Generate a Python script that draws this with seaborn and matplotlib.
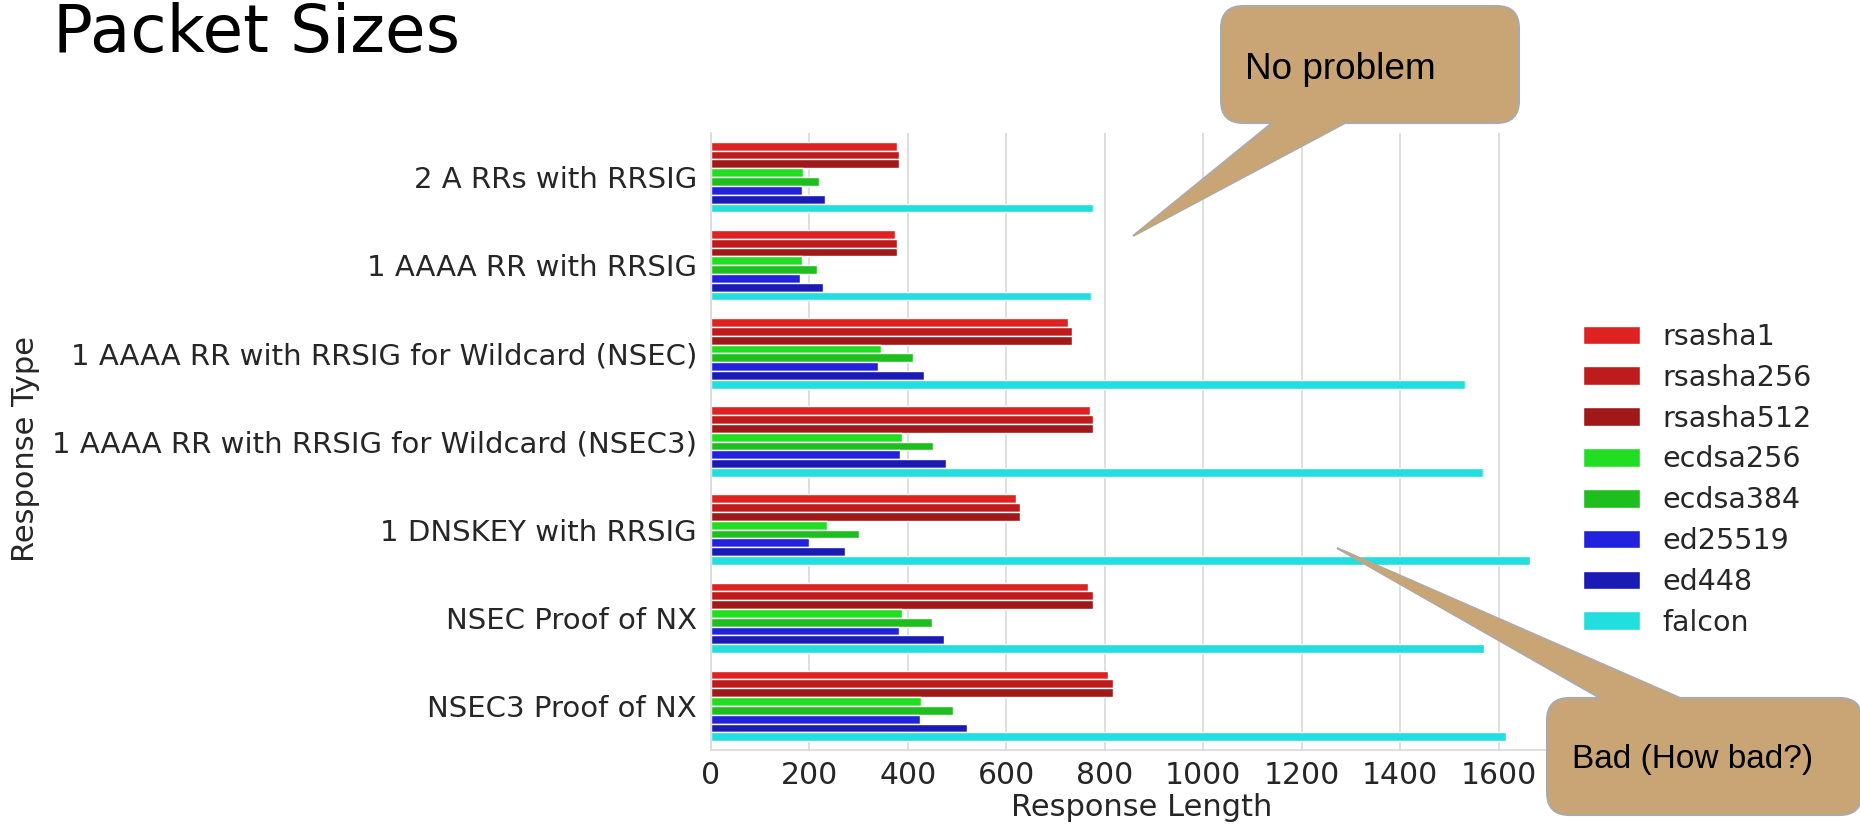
import numpy as np
import pandas as pd
import matplotlib
matplotlib.use("Agg")
import matplotlib.pyplot as plt
import seaborn as sns
from matplotlib.patches import FancyBboxPatch, Polygon

# --- data ---
response_types = [
    "2 A RRs with RRSIG",
    "1 AAAA RR with RRSIG",
    "1 AAAA RR with RRSIG for Wildcard (NSEC)",
    "1 AAAA RR with RRSIG for Wildcard (NSEC3)",
    "1 DNSKEY with RRSIG",
    "NSEC Proof of NX",
    "NSEC3 Proof of NX",
]
algorithms = ["rsasha1", "rsasha256", "rsasha512", "ecdsa256", "ecdsa384",
              "ed25519", "ed448", "falcon"]

rsasha1 = [378, 373, 726, 769, 620, 766, 807]
rsasha256 = [381, 378, 734, 775, 627, 775, 816]
rsasha512 = [381, 378, 734, 775, 627, 775, 816]
ecdsa256 = [187, 184, 346, 387, 235, 387, 427]
ecdsa384 = [219, 216, 410, 451, 300, 448, 492]
ed25519 = [184, 181, 340, 384, 200, 381, 424]
ed448 = [231, 227, 432, 478, 273, 473, 519]
falcon = [775, 772, 1531, 1568, 1663, 1571, 1614]

colors = ["#DE2222", "#BE1C1C", "#A01818", "#22DE22", "#1EBE1E",
          "#2222DE", "#1A1AB4", "#22DEDE"]

series = [rsasha1, rsasha256, rsasha512, ecdsa256, ecdsa384, ed25519, ed448, falcon]
rows = []
for alg, vals in zip(algorithms, series):
    for rt, v in zip(response_types, vals):
        rows.append({"Response Type": rt, "Response Length": v, "Algorithm": alg})
df = pd.DataFrame(rows)

W, H = 1860, 830


def fx(x):
    return x / W


def fy(y):
    return 1 - y / H


sns.set_theme(style="whitegrid")
plt.rcParams["font.family"] = ["DejaVu Sans"]

fig = plt.figure(figsize=(18.6, 8.3), dpi=100)
xmax = 1750
ax_w = xmax * 0.4923
ax = fig.add_axes([fx(711), fy(750), ax_w / W, (750 - 133) / H])

sns.barplot(data=df, y="Response Type", x="Response Length", hue="Algorithm",
            hue_order=algorithms, order=response_types, palette=colors,
            orient="h", saturation=1, edgecolor="white", linewidth=1.0, ax=ax)
ax.set_xlim(0, xmax)
handles, labels = ax.get_legend_handles_labels()
ax.get_legend().remove()

ax.set_xticks(range(0, 1601, 200))
ax.tick_params(axis="y", labelsize=21, pad=10, colors=".15", length=0)
ax.tick_params(axis="x", labelsize=21.5, pad=8, colors=".15", length=0)
ax.set_xlabel("Response Length", fontsize=22, color=".15", labelpad=2)
ax.set_ylabel("Response Type", fontsize=22, color=".15")
ax.yaxis.set_label_coords((40 - 711) / ax_w, 0.488)
ax.grid(axis="x", color=".85", linewidth=1.2)
ax.grid(axis="y", visible=False)
sns.despine(ax=ax, top=True, right=True)
for s in ["left", "bottom"]:
    ax.spines[s].set_color(".85")
    ax.spines[s].set_linewidth(1.2)

fig.legend(handles, labels, loc="upper left", bbox_to_anchor=(fx(1583), fy(323)),
           bbox_transform=fig.transFigure, frameon=False, borderpad=0,
           borderaxespad=0, handlelength=2.0, handleheight=0.63,
           handletextpad=0.8, labelspacing=0.45, fontsize=20.5)

# title (slide heading)
fig.text(fx(53), fy(52), "Packet Sizes", fontsize=47.5, va="baseline", ha="left",
         family=["DejaVu Sans"], color="black")

# callouts
tan = "#C9A576"
edge = "#AAAAAA"


def callout(box, base, tip, text, tpos, size):
    x0, y0, x1, y1 = box
    bx0, by, bx1 = base
    tri = Polygon([(fx(bx0), fy(by)), (fx(tip[0]), fy(tip[1])), (fx(bx1), fy(by))],
                  closed=True, transform=fig.transFigure, facecolor=tan,
                  edgecolor=edge, linewidth=1.5, zorder=10)
    fig.add_artist(tri)
    rb = FancyBboxPatch((fx(x0), fy(y1)), fx(x1) - fx(x0), fy(y0) - fy(y1),
                        boxstyle="round,pad=0,rounding_size=0.012",
                        mutation_aspect=W / H,
                        transform=fig.transFigure, facecolor=tan,
                        edgecolor=edge, linewidth=1.5, zorder=11)
    fig.add_artist(rb)
    # hide the box outline where the pointer joins it
    step = 4 if tip[1] > by else -4
    cover = Polygon([(fx(bx0 + 2), fy(by)), (fx(tip[0]), fy(tip[1])),
                     (fx(bx1 - 2), fy(by)),
                     (fx(bx1 - 2), fy(by - step)),
                     (fx(bx0 + 2), fy(by - step))],
                    closed=True, transform=fig.transFigure, facecolor=tan,
                    edgecolor="none", zorder=12)
    fig.add_artist(cover)
    fig.text(fx(tpos[0]), fy(tpos[1]), text, fontsize=size, va="baseline",
             ha="left", family=["Liberation Sans", "DejaVu Sans"], color="black",
             zorder=13)


callout((1221, 6, 1519, 123), (1272, 123, 1345), (1133, 236), "No problem", (1245, 79), 26.6)
callout((1547, 698, 1862, 815), (1600, 698, 1680), (1337, 548), "Bad (How bad?)", (1572, 768), 24)

fig.savefig("out.png", dpi=100)
